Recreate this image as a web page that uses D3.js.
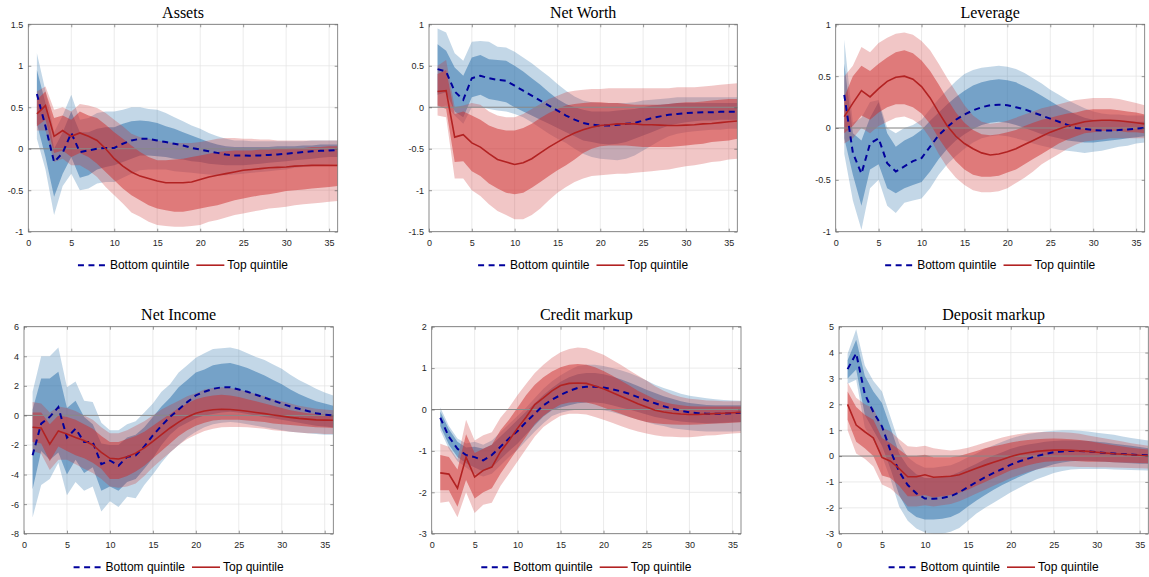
<!DOCTYPE html>
<meta charset="utf-8">
<style>
body { margin: 0; background: #fff; }
.tick text { font: 9px "Liberation Sans", Arial, sans-serif; fill: #262626; }
.title { font: 16px "Liberation Serif", "Times New Roman", serif; fill: #000; }
.legend text { font: 12px "Liberation Sans", Arial, sans-serif; fill: #000; }
</style>
<body>
<script src="https://d3js.org/d3.v7.min.js"></script>
<script>
// horizons and axis ticks
var periods = [1,2,3,4,5,6,7,8,9,10,11,12,13,14,15,16,17,18,19,20,21,22,23,24,25,26,27,28,29,30,31,32,33,34,35,36];
var xTicks = [0,5,10,15,20,25,30,35];
var seriesNames = ["Bottom quintile", "Top quintile"];

// ---- Assets
var assetsTicks = [-1,-0.5,0,0.5,1,1.5];
var assetsBot      = [0.66,0.27,-0.16,-0.05,0.19,-0.04,-0.02,0.0,0.01,0.01,0.06,0.1,0.12,0.12,0.1,0.08,0.06,0.04,0.01,-0.01,-0.03,-0.05,-0.07,-0.08,-0.08,-0.085,-0.08,-0.075,-0.07,-0.06,-0.05,-0.04,-0.03,-0.025,-0.02,-0.015];
var assetsBotInLo  = [0.3,-0.1,-0.58,-0.3,-0.1,-0.35,-0.32,-0.25,-0.22,-0.2,-0.16,-0.12,-0.08,-0.08,-0.09,-0.1,-0.12,-0.13,-0.15,-0.16,-0.18,-0.19,-0.2,-0.2,-0.2,-0.19,-0.18,-0.17,-0.16,-0.15,-0.14,-0.13,-0.12,-0.11,-0.1,-0.1];
var assetsBotInHi  = [0.95,0.55,0.0,0.2,0.45,0.2,0.2,0.24,0.26,0.26,0.3,0.33,0.34,0.33,0.31,0.27,0.24,0.2,0.16,0.12,0.08,0.05,0.03,0.02,0.02,0.02,0.02,0.02,0.03,0.03,0.03,0.04,0.04,0.05,0.05,0.05];
var assetsBotOutLo = [0.12,-0.25,-0.8,-0.45,-0.3,-0.5,-0.48,-0.42,-0.4,-0.4,-0.35,-0.3,-0.26,-0.25,-0.25,-0.25,-0.27,-0.28,-0.29,-0.3,-0.31,-0.32,-0.32,-0.31,-0.3,-0.29,-0.28,-0.27,-0.26,-0.25,-0.23,-0.22,-0.21,-0.2,-0.19,-0.18];
var assetsBotOutHi = [1.15,0.7,0.2,0.4,0.65,0.35,0.37,0.43,0.45,0.45,0.47,0.5,0.5,0.48,0.47,0.43,0.38,0.33,0.28,0.24,0.19,0.15,0.12,0.1,0.1,0.09,0.09,0.09,0.09,0.09,0.09,0.09,0.1,0.1,0.1,0.1];
var assetsTop      = [0.42,0.52,0.15,0.22,0.15,0.19,0.15,0.1,0.0,-0.12,-0.21,-0.28,-0.33,-0.36,-0.39,-0.41,-0.41,-0.41,-0.4,-0.37,-0.34,-0.32,-0.3,-0.28,-0.26,-0.25,-0.24,-0.23,-0.225,-0.22,-0.21,-0.205,-0.2,-0.2,-0.2,-0.2];
var assetsTopInLo  = [0.27,0.35,-0.05,-0.02,-0.1,-0.05,-0.1,-0.18,-0.28,-0.38,-0.48,-0.56,-0.62,-0.68,-0.72,-0.74,-0.76,-0.76,-0.74,-0.72,-0.7,-0.68,-0.65,-0.62,-0.6,-0.58,-0.56,-0.55,-0.53,-0.51,-0.5,-0.49,-0.48,-0.47,-0.46,-0.45];
var assetsTopInHi  = [0.59,0.69,0.37,0.4,0.35,0.45,0.4,0.37,0.29,0.2,0.12,0.04,-0.04,-0.1,-0.14,-0.14,-0.13,-0.12,-0.1,-0.08,-0.06,-0.04,-0.03,-0.02,-0.02,-0.02,-0.01,-0.01,0,0,0.01,0.01,0.02,0.02,0.03,0.03];
var assetsTopOutLo = [0.22,0.22,-0.16,-0.12,-0.2,-0.2,-0.26,-0.34,-0.46,-0.56,-0.66,-0.77,-0.82,-0.88,-0.92,-0.93,-0.94,-0.94,-0.93,-0.92,-0.88,-0.86,-0.83,-0.8,-0.78,-0.76,-0.74,-0.72,-0.71,-0.7,-0.68,-0.67,-0.66,-0.65,-0.64,-0.63];
var assetsTopOutHi = [0.69,0.75,0.47,0.5,0.45,0.54,0.52,0.49,0.43,0.35,0.27,0.18,0.14,0.12,0.1,0.08,0.07,0.07,0.07,0.08,0.1,0.12,0.13,0.13,0.12,0.12,0.11,0.11,0.1,0.1,0.1,0.1,0.1,0.1,0.1,0.1];

// ---- Net Worth
var worthTicks = [-1.5,-1,-0.5,0,0.5,1];
var worthBot      = [0.46,0.43,0.19,0.09,0.35,0.38,0.35,0.33,0.32,0.26,0.2,0.14,0.08,0.02,-0.04,-0.1,-0.15,-0.19,-0.21,-0.22,-0.22,-0.21,-0.2,-0.19,-0.16,-0.13,-0.11,-0.09,-0.08,-0.07,-0.065,-0.06,-0.06,-0.055,-0.055,-0.055];
var worthBotInLo  = [0.15,0.18,-0.05,-0.12,0.12,0.15,0.1,0.08,0.06,0.0,-0.05,-0.1,-0.15,-0.2,-0.25,-0.3,-0.35,-0.4,-0.42,-0.44,-0.45,-0.44,-0.42,-0.38,-0.34,-0.3,-0.26,-0.22,-0.2,-0.18,-0.17,-0.16,-0.16,-0.15,-0.15,-0.15];
var worthBotInHi  = [0.76,0.68,0.48,0.38,0.6,0.63,0.58,0.57,0.56,0.5,0.43,0.35,0.27,0.18,0.1,0.04,0.0,-0.03,-0.05,-0.05,-0.05,-0.04,-0.03,-0.02,0.0,0.02,0.03,0.04,0.05,0.05,0.05,0.05,0.05,0.05,0.05,0.05];
var worthBotOutLo = [0.0,0.02,-0.1,-0.2,0.0,0.0,-0.02,-0.04,-0.05,-0.08,-0.12,-0.18,-0.25,-0.32,-0.38,-0.43,-0.5,-0.56,-0.6,-0.62,-0.63,-0.64,-0.62,-0.58,-0.52,-0.46,-0.4,-0.35,-0.32,-0.3,-0.29,-0.28,-0.27,-0.27,-0.26,-0.26];
var worthBotOutHi = [0.95,0.9,0.65,0.56,0.79,0.8,0.79,0.73,0.72,0.67,0.6,0.53,0.45,0.37,0.28,0.2,0.13,0.08,0.06,0.05,0.05,0.05,0.05,0.06,0.08,0.09,0.1,0.11,0.12,0.12,0.12,0.12,0.12,0.12,0.12,0.12];
var worthTop      = [0.19,0.2,-0.36,-0.33,-0.43,-0.48,-0.56,-0.63,-0.66,-0.69,-0.67,-0.62,-0.55,-0.48,-0.42,-0.36,-0.31,-0.27,-0.24,-0.22,-0.21,-0.2,-0.2,-0.2,-0.21,-0.21,-0.215,-0.22,-0.22,-0.215,-0.21,-0.2,-0.195,-0.185,-0.175,-0.165];
var worthTopInLo  = [0.02,-0.02,-0.66,-0.65,-0.77,-0.83,-0.92,-0.98,-1.03,-1.05,-1.03,-0.97,-0.9,-0.83,-0.76,-0.7,-0.63,-0.55,-0.5,-0.47,-0.46,-0.46,-0.46,-0.47,-0.48,-0.48,-0.48,-0.48,-0.47,-0.46,-0.45,-0.44,-0.42,-0.41,-0.4,-0.38];
var worthTopInHi  = [0.4,0.45,-0.08,-0.05,-0.1,-0.15,-0.22,-0.26,-0.28,-0.28,-0.25,-0.2,-0.13,-0.07,-0.02,0.02,0.04,0.05,0.06,0.06,0.05,0.05,0.04,0.03,0.03,0.03,0.03,0.04,0.05,0.06,0.06,0.07,0.08,0.09,0.1,0.1];
var worthTopOutLo = [-0.1,-0.12,-0.86,-0.86,-1.0,-1.07,-1.17,-1.25,-1.3,-1.35,-1.35,-1.3,-1.22,-1.12,-1.03,-0.96,-0.9,-0.86,-0.83,-0.82,-0.81,-0.8,-0.8,-0.79,-0.78,-0.77,-0.76,-0.75,-0.73,-0.71,-0.7,-0.68,-0.66,-0.65,-0.63,-0.62];
var worthTopOutHi = [0.5,0.57,0.0,0.02,0.05,0.03,-0.05,-0.1,-0.12,-0.12,-0.08,-0.02,0.04,0.1,0.14,0.18,0.2,0.21,0.22,0.22,0.23,0.23,0.23,0.23,0.23,0.23,0.23,0.23,0.24,0.24,0.24,0.25,0.26,0.27,0.28,0.29];

// ---- Leverage
var levTicks = [-1,-0.5,0,0.5,1];
var levBot      = [0.32,-0.24,-0.44,-0.15,-0.1,-0.34,-0.42,-0.37,-0.32,-0.29,-0.18,-0.07,0.01,0.08,0.13,0.17,0.2,0.22,0.225,0.22,0.2,0.18,0.15,0.12,0.09,0.06,0.03,0.0,-0.01,-0.02,-0.025,-0.025,-0.02,-0.015,-0.005,0.0];
var levBotInLo  = [-0.1,-0.45,-0.75,-0.4,-0.35,-0.58,-0.63,-0.58,-0.55,-0.52,-0.42,-0.3,-0.2,-0.12,-0.06,-0.01,0.03,0.05,0.06,0.05,0.03,0.0,-0.03,-0.06,-0.08,-0.1,-0.12,-0.13,-0.14,-0.14,-0.13,-0.12,-0.11,-0.1,-0.09,-0.08];
var levBotInHi  = [0.62,-0.05,-0.12,0.1,0.25,-0.05,-0.18,-0.12,-0.08,-0.02,0.07,0.15,0.23,0.3,0.36,0.41,0.44,0.46,0.47,0.46,0.44,0.4,0.36,0.31,0.26,0.21,0.17,0.13,0.1,0.08,0.07,0.07,0.07,0.07,0.06,0.06];
var levBotOutLo = [-0.25,-0.7,-0.98,-0.58,-0.5,-0.75,-0.82,-0.72,-0.7,-0.68,-0.58,-0.45,-0.35,-0.27,-0.2,-0.14,-0.1,-0.08,-0.07,-0.08,-0.1,-0.12,-0.15,-0.17,-0.19,-0.21,-0.22,-0.23,-0.24,-0.23,-0.22,-0.2,-0.18,-0.17,-0.15,-0.14];
var levBotOutHi = [0.85,0.05,0.1,0.25,0.27,0.0,-0.05,0.0,0.03,0.08,0.18,0.28,0.37,0.45,0.52,0.56,0.58,0.59,0.6,0.59,0.57,0.53,0.48,0.43,0.37,0.32,0.27,0.23,0.19,0.16,0.14,0.13,0.13,0.12,0.12,0.12];
var levTop      = [0.11,0.24,0.36,0.3,0.38,0.45,0.49,0.5,0.47,0.4,0.29,0.15,0.02,-0.08,-0.15,-0.2,-0.24,-0.26,-0.25,-0.23,-0.2,-0.16,-0.12,-0.08,-0.04,-0.01,0.02,0.04,0.06,0.07,0.075,0.075,0.07,0.06,0.05,0.04];
var levTopInLo  = [-0.05,0.02,0.12,0.08,0.15,0.2,0.23,0.23,0.2,0.14,0.04,-0.1,-0.22,-0.32,-0.4,-0.45,-0.47,-0.47,-0.46,-0.43,-0.4,-0.35,-0.3,-0.25,-0.2,-0.15,-0.11,-0.08,-0.05,-0.04,-0.03,-0.03,-0.03,-0.04,-0.04,-0.05];
var levTopInHi  = [0.3,0.5,0.6,0.55,0.62,0.68,0.73,0.75,0.72,0.65,0.55,0.42,0.28,0.15,0.05,-0.02,-0.06,-0.07,-0.06,-0.04,-0.02,0.02,0.05,0.08,0.1,0.12,0.14,0.15,0.17,0.18,0.18,0.18,0.17,0.16,0.15,0.13];
var levTopOutLo = [-0.15,-0.1,0.0,-0.05,0.02,0.06,0.1,0.11,0.08,0.02,-0.1,-0.25,-0.38,-0.48,-0.55,-0.6,-0.62,-0.62,-0.61,-0.58,-0.53,-0.48,-0.42,-0.35,-0.3,-0.25,-0.2,-0.16,-0.13,-0.12,-0.11,-0.1,-0.1,-0.1,-0.1,-0.1];
var levTopOutHi = [0.5,0.6,0.78,0.73,0.82,0.87,0.91,0.92,0.9,0.84,0.75,0.62,0.48,0.35,0.22,0.12,0.06,0.04,0.05,0.07,0.1,0.13,0.16,0.19,0.21,0.23,0.25,0.27,0.28,0.29,0.29,0.29,0.28,0.26,0.24,0.22];

// ---- Net Income
var incTicks = [-8,-6,-4,-2,0,2,4,6];
var incBot      = [-2.7,-0.56,-0.1,0.56,-1.5,-0.9,-1.8,-1.8,-3.3,-3.05,-3.4,-2.8,-2.7,-2.1,-1.35,-0.7,-0.1,0.4,0.9,1.35,1.6,1.8,1.9,1.9,1.75,1.6,1.4,1.2,1.0,0.8,0.6,0.45,0.3,0.15,0.05,0.0];
var incBotInLo  = [-5.0,-2.4,-3.0,-2.5,-4.0,-3.0,-3.9,-3.5,-5.1,-4.8,-5.1,-4.5,-4.3,-3.6,-2.9,-2.0,-1.3,-0.8,-0.5,-0.2,0.0,0.1,0.2,0.25,0.2,0.1,0.0,-0.1,-0.2,-0.3,-0.4,-0.5,-0.6,-0.7,-0.75,-0.8];
var incBotInHi  = [0.4,2.5,2.5,2.95,0.5,1.0,-0.1,-0.6,-1.9,-2.0,-2.0,-1.5,-1.3,-0.8,-0.1,0.6,1.2,1.9,2.4,2.9,3.1,3.4,3.5,3.55,3.4,3.2,2.95,2.7,2.4,2.1,1.75,1.45,1.2,0.95,0.8,0.65];
var incBotOutLo = [-6.9,-4.7,-4.3,-3.2,-5.4,-4.5,-5.1,-4.8,-6.5,-5.8,-6.2,-5.5,-5.6,-4.7,-4.0,-3.2,-2.5,-2.0,-1.5,-1.1,-0.8,-0.6,-0.5,-0.45,-0.5,-0.6,-0.7,-0.8,-0.9,-1.0,-1.1,-1.15,-1.2,-1.25,-1.3,-1.3];
var incBotOutHi = [1.6,4.0,4.0,4.6,1.9,2.3,1.0,0.9,-0.5,-1.0,-1.0,-0.6,-0.4,0.2,0.8,1.6,2.1,2.9,3.4,3.9,4.2,4.5,4.55,4.6,4.45,4.2,3.95,3.75,3.45,3.15,2.75,2.4,2.1,1.8,1.55,1.35];
var incTop      = [-0.8,-0.85,-1.95,-1.05,-1.25,-1.5,-1.7,-2.0,-2.5,-2.9,-2.95,-2.8,-2.55,-2.2,-1.75,-1.3,-0.85,-0.45,-0.1,0.15,0.3,0.38,0.42,0.4,0.35,0.28,0.2,0.12,0.03,-0.05,-0.13,-0.2,-0.25,-0.3,-0.32,-0.33];
var incTopInLo  = [-1.8,-1.9,-3.1,-2.1,-2.4,-2.7,-2.9,-3.2,-3.6,-4.3,-4.3,-4.1,-3.8,-3.4,-2.9,-2.4,-1.9,-1.4,-1.0,-0.7,-0.5,-0.35,-0.3,-0.3,-0.3,-0.35,-0.4,-0.45,-0.55,-0.6,-0.65,-0.7,-0.75,-0.8,-0.82,-0.85];
var incTopInHi  = [0.2,0.2,-0.6,0.0,-0.1,-0.3,-0.6,-0.9,-1.4,-1.8,-1.8,-1.6,-1.4,-1.1,-0.7,-0.3,0.1,0.5,0.8,1.1,1.25,1.35,1.4,1.35,1.25,1.1,0.95,0.8,0.65,0.5,0.35,0.25,0.15,0.1,0.05,0.05];
var incTopOutLo = [-2.4,-2.6,-3.7,-3.0,-3.0,-3.3,-3.6,-3.9,-4.3,-4.8,-4.9,-4.8,-4.6,-4.1,-3.5,-3.0,-2.5,-2.0,-1.6,-1.3,-1.05,-0.9,-0.8,-0.78,-0.78,-0.8,-0.85,-0.9,-1.0,-1.05,-1.1,-1.15,-1.2,-1.2,-1.25,-1.25];
var incTopOutHi = [0.9,0.8,0.2,0.6,0.5,0.3,0.0,-0.3,-0.8,-1.2,-1.2,-1.0,-0.7,-0.4,0.0,0.4,0.7,1.0,1.3,1.5,1.75,1.85,1.9,1.85,1.75,1.6,1.45,1.3,1.1,0.95,0.8,0.65,0.55,0.45,0.4,0.35];

// ---- Credit markup
var credTicks = [-3,-2,-1,0,1,2];
var credBot      = [-0.2,-0.66,-0.95,-1.1,-1.15,-1.23,-1.1,-0.9,-0.7,-0.52,-0.3,-0.1,0.1,0.24,0.35,0.45,0.52,0.55,0.55,0.53,0.49,0.44,0.38,0.3,0.22,0.15,0.08,0.02,-0.03,-0.07,-0.09,-0.1,-0.1,-0.1,-0.09,-0.08];
var credBotInLo  = [-0.4,-0.85,-1.15,-1.3,-1.4,-1.5,-1.4,-1.2,-1.0,-0.82,-0.6,-0.38,-0.17,-0.02,0.05,0.1,0.15,0.17,0.17,0.15,0.1,0.05,0.0,-0.06,-0.12,-0.18,-0.22,-0.26,-0.29,-0.31,-0.32,-0.33,-0.33,-0.32,-0.31,-0.3];
var credBotInHi  = [-0.05,-0.48,-0.78,-0.92,-0.9,-0.95,-0.85,-0.65,-0.45,-0.25,-0.05,0.15,0.35,0.52,0.67,0.78,0.85,0.88,0.88,0.85,0.8,0.73,0.65,0.57,0.48,0.4,0.32,0.26,0.2,0.16,0.13,0.11,0.1,0.1,0.1,0.1];
var credBotOutLo = [-0.5,-0.95,-1.25,-1.4,-1.55,-1.62,-1.55,-1.35,-1.15,-0.97,-0.75,-0.53,-0.33,-0.16,-0.08,-0.03,0.0,0.0,0.0,-0.02,-0.06,-0.12,-0.18,-0.24,-0.3,-0.36,-0.4,-0.45,-0.48,-0.5,-0.52,-0.53,-0.53,-0.53,-0.53,-0.52];
var credBotOutHi = [0.05,-0.4,-0.7,-0.82,-0.78,-0.85,-0.75,-0.55,-0.35,-0.15,0.05,0.28,0.5,0.68,0.83,0.95,1.05,1.08,1.08,1.05,1.0,0.95,0.88,0.8,0.7,0.6,0.52,0.45,0.38,0.33,0.3,0.27,0.25,0.23,0.22,0.21];
var credTop      = [-1.53,-1.56,-1.9,-1.15,-1.63,-1.47,-1.39,-1.02,-0.75,-0.45,-0.18,0.12,0.28,0.45,0.58,0.63,0.64,0.63,0.57,0.5,0.41,0.32,0.23,0.14,0.06,-0.02,-0.06,-0.09,-0.11,-0.12,-0.12,-0.11,-0.1,-0.09,-0.08,-0.07];
var credTopInLo  = [-1.95,-1.95,-2.35,-1.7,-2.15,-2.0,-1.9,-1.55,-1.25,-0.95,-0.65,-0.35,-0.15,0.0,0.12,0.17,0.18,0.17,0.12,0.05,-0.03,-0.1,-0.18,-0.25,-0.3,-0.33,-0.35,-0.36,-0.37,-0.37,-0.36,-0.35,-0.34,-0.33,-0.32,-0.31];
var credTopInHi  = [-1.1,-1.15,-1.45,-0.6,-1.05,-0.95,-0.85,-0.5,-0.25,0.05,0.35,0.6,0.78,0.92,1.02,1.08,1.1,1.08,1.02,0.93,0.82,0.7,0.58,0.45,0.35,0.25,0.18,0.13,0.1,0.08,0.07,0.07,0.07,0.07,0.07,0.07];
var credTopOutLo = [-2.25,-2.22,-2.6,-2.0,-2.5,-2.3,-2.25,-1.85,-1.55,-1.25,-0.95,-0.65,-0.42,-0.28,-0.15,-0.1,-0.1,-0.12,-0.18,-0.25,-0.32,-0.4,-0.47,-0.53,-0.58,-0.62,-0.65,-0.66,-0.67,-0.67,-0.65,-0.63,-0.62,-0.6,-0.58,-0.57];
var credTopOutHi = [-0.83,-0.9,-1.2,-0.25,-0.75,-0.62,-0.55,-0.2,0.05,0.35,0.62,0.88,1.08,1.25,1.38,1.46,1.5,1.48,1.4,1.32,1.2,1.08,0.95,0.82,0.7,0.56,0.45,0.36,0.3,0.26,0.24,0.22,0.21,0.2,0.2,0.2];

// ---- Deposit markup
var depTicks = [-3,-2,-1,0,1,2,3,4,5];
var depBot      = [3.36,3.97,2.4,1.7,1.15,0.2,-0.6,-1.12,-1.44,-1.64,-1.65,-1.62,-1.55,-1.4,-1.2,-1.0,-0.82,-0.65,-0.5,-0.33,-0.2,-0.1,0.0,0.08,0.15,0.18,0.2,0.2,0.18,0.15,0.12,0.1,0.08,0.06,0.04,0.03];
var depBotInLo  = [3.0,3.35,1.6,1.0,0.4,-0.5,-1.5,-2.1,-2.35,-2.45,-2.45,-2.42,-2.35,-2.2,-1.95,-1.72,-1.5,-1.3,-1.12,-0.95,-0.8,-0.65,-0.52,-0.42,-0.32,-0.25,-0.2,-0.18,-0.18,-0.2,-0.22,-0.24,-0.26,-0.28,-0.3,-0.3];
var depBotInHi  = [3.7,4.5,3.1,2.5,2.05,1.1,0.1,-0.4,-0.7,-0.85,-0.85,-0.8,-0.75,-0.62,-0.45,-0.3,-0.12,0.02,0.15,0.28,0.38,0.45,0.5,0.55,0.58,0.6,0.6,0.6,0.58,0.55,0.52,0.48,0.44,0.4,0.35,0.3];
var depBotOutLo = [2.8,2.95,1.1,0.6,0.0,-0.9,-1.95,-2.5,-2.8,-2.95,-3.0,-3.0,-2.92,-2.78,-2.5,-2.22,-2.0,-1.8,-1.6,-1.4,-1.22,-1.05,-0.9,-0.78,-0.65,-0.58,-0.52,-0.5,-0.5,-0.5,-0.5,-0.52,-0.53,-0.54,-0.55,-0.56];
var depBotOutHi = [3.95,4.9,3.5,2.9,2.5,1.5,0.5,-0.05,-0.3,-0.45,-0.45,-0.4,-0.35,-0.22,-0.05,0.1,0.28,0.42,0.55,0.68,0.78,0.85,0.9,0.95,0.98,1.0,1.0,0.98,0.95,0.9,0.86,0.82,0.76,0.7,0.65,0.6];
var depTop      = [2.0,1.2,0.94,0.7,-0.05,-0.2,-0.48,-0.8,-0.8,-0.72,-0.82,-0.8,-0.78,-0.72,-0.6,-0.47,-0.35,-0.24,-0.13,-0.02,0.07,0.13,0.18,0.21,0.23,0.23,0.22,0.2,0.18,0.15,0.12,0.09,0.07,0.05,0.03,0.02];
var depTopInLo  = [1.4,0.55,0.3,0.0,-0.75,-0.85,-1.15,-1.55,-1.55,-1.5,-1.6,-1.55,-1.5,-1.42,-1.3,-1.15,-1.0,-0.85,-0.7,-0.55,-0.45,-0.35,-0.28,-0.22,-0.2,-0.18,-0.18,-0.2,-0.22,-0.22,-0.22,-0.24,-0.25,-0.26,-0.27,-0.28];
var depTopInHi  = [2.5,1.9,1.6,1.4,0.7,0.5,0.25,0.0,0.0,0.05,-0.05,-0.05,-0.05,0.0,0.1,0.2,0.3,0.38,0.45,0.52,0.58,0.62,0.65,0.67,0.68,0.67,0.65,0.62,0.58,0.52,0.47,0.42,0.37,0.32,0.28,0.25];
var depTopOutLo = [1.0,0.1,-0.1,-0.4,-1.1,-1.25,-1.55,-1.95,-1.95,-1.9,-1.95,-1.9,-1.85,-1.75,-1.6,-1.45,-1.3,-1.15,-1.0,-0.85,-0.73,-0.62,-0.52,-0.45,-0.42,-0.4,-0.4,-0.42,-0.42,-0.43,-0.43,-0.44,-0.45,-0.46,-0.47,-0.48];
var depTopOutHi = [2.85,2.25,2.0,1.85,1.1,0.95,0.65,0.38,0.35,0.4,0.3,0.25,0.22,0.25,0.32,0.42,0.52,0.62,0.72,0.8,0.85,0.9,0.92,0.93,0.93,0.92,0.9,0.86,0.8,0.74,0.68,0.62,0.56,0.5,0.45,0.4];

var panels = [
  {title: "Assets", ticks: assetsTicks,
   bot: [assetsBot, assetsBotInLo, assetsBotInHi, assetsBotOutLo, assetsBotOutHi],
   top: [assetsTop, assetsTopInLo, assetsTopInHi, assetsTopOutLo, assetsTopOutHi]},
  {title: "Net Worth", ticks: worthTicks,
   bot: [worthBot, worthBotInLo, worthBotInHi, worthBotOutLo, worthBotOutHi],
   top: [worthTop, worthTopInLo, worthTopInHi, worthTopOutLo, worthTopOutHi]},
  {title: "Leverage", ticks: levTicks,
   bot: [levBot, levBotInLo, levBotInHi, levBotOutLo, levBotOutHi],
   top: [levTop, levTopInLo, levTopInHi, levTopOutLo, levTopOutHi]},
  {title: "Net Income", ticks: incTicks,
   bot: [incBot, incBotInLo, incBotInHi, incBotOutLo, incBotOutHi],
   top: [incTop, incTopInLo, incTopInHi, incTopOutLo, incTopOutHi]},
  {title: "Credit markup", ticks: credTicks,
   bot: [credBot, credBotInLo, credBotInHi, credBotOutLo, credBotOutHi],
   top: [credTop, credTopInLo, credTopInHi, credTopOutLo, credTopOutHi]},
  {title: "Deposit markup", ticks: depTicks,
   bot: [depBot, depBotInLo, depBotInHi, depBotOutLo, depBotOutHi],
   top: [depTop, depTopInLo, depTopInHi, depTopOutLo, depTopOutHi]}
];

// axes boxes (left, top, width, height)
var boxes = [
  [28.3, 24.3, 309.4, 207.4], [429, 24.3, 308.3, 207.4], [835.7, 24.3, 309, 207.4],
  [24, 326.7, 309.3, 207], [431.7, 326.7, 309.3, 207], [839, 326.7, 309.3, 207]
];

var blue = "rgb(40,110,170)", red = "rgb(205,45,45)";

var svg = d3.select("body").append("svg")
    .attr("width", 1149)
    .attr("height", 577);

panels.forEach(function(p, k) {
  var b = boxes[k], w = b[2], h = b[3];
  var x = d3.scaleLinear().domain([0, 36]).range([0, w]);
  var y = d3.scaleLinear().domain(d3.extent(p.ticks)).range([h, 0]);

  var g = svg.append("g").attr("transform", "translate(" + b[0] + "," + b[1] + ")");

  g.append("clipPath").attr("id", "clip" + k)
    .append("rect").attr("width", w).attr("height", h);

  // grid
  g.selectAll(".gx").data(xTicks.slice(1)).enter().append("line")
      .attr("x1", x).attr("x2", x).attr("y1", 0).attr("y2", h)
      .style("stroke", "#e3e3e3").style("stroke-width", 0.7);
  g.selectAll(".gy").data(p.ticks).enter().append("line")
      .attr("y1", y).attr("y2", y).attr("x1", 0).attr("x2", w)
      .style("stroke", "#e3e3e3").style("stroke-width", 0.7);

  var plot = g.append("g").attr("clip-path", "url(#clip" + k + ")");

  function band(lo, hi, color, op) {
    var area = d3.area()
        .x(function(d, i) { return x(periods[i]); })
        .y0(function(d, i) { return y(lo[i]); })
        .y1(function(d, i) { return y(hi[i]); });
    plot.append("path").attr("d", area(periods))
        .style("fill", color).style("fill-opacity", op).style("stroke", "none");
  }
  band(p.bot[3], p.bot[4], blue, 0.28);
  band(p.bot[1], p.bot[2], blue, 0.5);
  band(p.top[3], p.top[4], red, 0.27);
  band(p.top[1], p.top[2], red, 0.5);

  // zero line
  plot.append("line").attr("x1", 0).attr("x2", w).attr("y1", y(0)).attr("y2", y(0))
      .style("stroke", "#8a8a8a").style("stroke-width", 1);

  var line = d3.line().x(function(d, i) { return x(periods[i]); }).y(function(d) { return y(d); });
  plot.append("path").attr("d", line(p.bot[0]))
      .style("fill", "none").style("stroke", "#00009c").style("stroke-width", 2)
      .style("stroke-dasharray", "6,4.5");
  plot.append("path").attr("d", line(p.top[0]))
      .style("fill", "none").style("stroke", "#b22222").style("stroke-width", 1.6);

  // axes
  var fmt = function(d) { return String(d); };
  var ax = g.append("g").attr("transform", "translate(0," + h + ")")
      .call(d3.axisBottom(x).tickValues(xTicks).tickSize(-3).tickPadding(8).tickFormat(fmt));
  var ay = g.append("g")
      .call(d3.axisLeft(y).tickValues(p.ticks).tickSize(-3).tickPadding(5).tickFormat(fmt));
  var at = g.append("g")
      .call(d3.axisTop(x).tickValues(xTicks).tickSize(-3).tickFormat(""));
  var ar = g.append("g").attr("transform", "translate(" + w + ",0)")
      .call(d3.axisRight(y).tickValues(p.ticks).tickSize(-3).tickFormat(""));
  [ax, ay, at, ar].forEach(function(a) {
    a.select(".domain").remove();
    a.selectAll(".tick line").style("stroke", "#555").style("stroke-width", 0.6);
    a.selectAll(".tick text").attr("font-family", null).attr("font-size", null).attr("fill", null);
  });

  g.append("rect").attr("width", w).attr("height", h)
      .style("fill", "none").style("stroke", "#6e6e6e").style("stroke-width", 0.8);

  g.append("text").attr("class", "title")
      .attr("x", w / 2).attr("y", -6.5)
      .style("text-anchor", "middle")
      .text(p.title);

  // legend
  var leg = g.append("g").attr("class", "legend");
  var ly = h + 33.5;
  leg.append("line").attr("x1", 0).attr("x2", 29).attr("y1", ly).attr("y2", ly)
      .style("stroke", "#00009c").style("stroke-width", 2).style("stroke-dasharray", "6,4.5");
  var t1 = leg.append("text").attr("x", 32).attr("y", ly).attr("dy", "0.35em").text(seriesNames[0]);
  var e1 = 32 + t1.node().getComputedTextLength() + 7;
  leg.append("line").attr("x1", e1).attr("x2", e1 + 28).attr("y1", ly).attr("y2", ly)
      .style("stroke", "#b22222").style("stroke-width", 1.6);
  var t2 = leg.append("text").attr("x", e1 + 31).attr("y", ly).attr("dy", "0.35em").text(seriesNames[1]);
  var total = e1 + 31 + t2.node().getComputedTextLength();
  leg.attr("transform", "translate(" + (w / 2 - total / 2) + ",0)");
});
</script>
</body>
</html>
